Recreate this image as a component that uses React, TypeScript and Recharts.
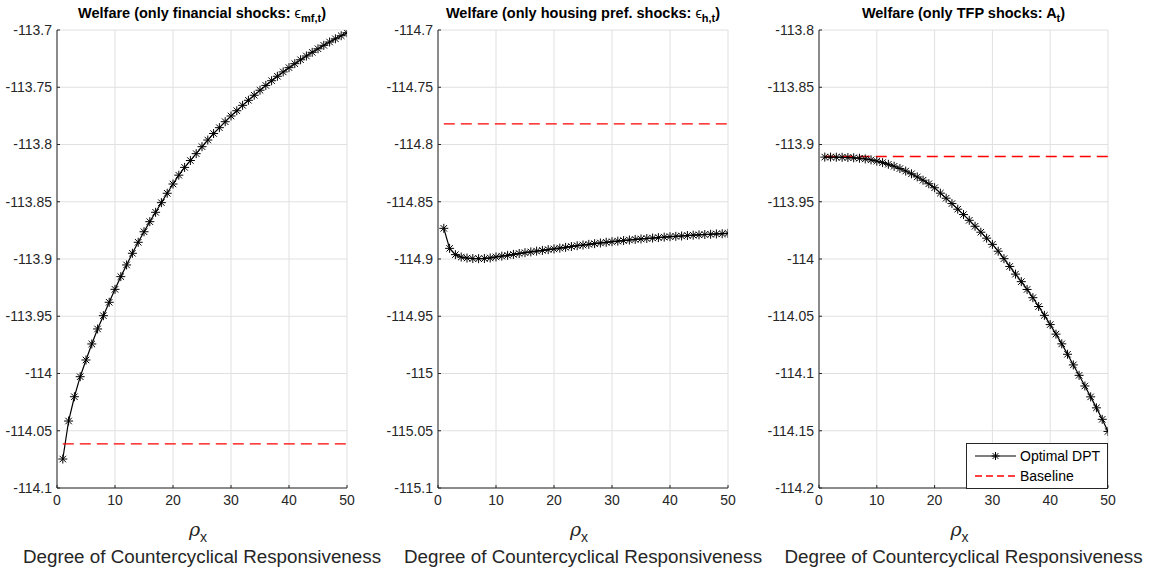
import React from 'react';
import { LineChart, Line, XAxis, YAxis, CartesianGrid, Legend } from 'recharts';

const RHO = [1, 2, 3, 4, 5, 6, 7, 8, 9, 10, 11, 12, 13, 14, 15, 16, 17, 18, 19, 20, 21, 22, 23, 24, 25, 26, 27, 28, 29, 30, 31, 32, 33, 34, 35, 36, 37, 38, 39, 40, 41, 42, 43, 44, 45, 46, 47, 48, 49, 50];

const WELFARE_FIN = [
  -114.0747, -114.0415, -114.0203, -114.0028, -113.9882, -113.9742, -113.9611, -113.9495, -113.9378, -113.9265,
  -113.9154, -113.9052, -113.8950, -113.8854, -113.8762, -113.8674, -113.8592, -113.8508, -113.8426, -113.8345,
  -113.8268, -113.8200, -113.8140, -113.8080, -113.8019, -113.7961, -113.7904, -113.7853, -113.7801, -113.7751,
  -113.7705, -113.7658, -113.7614, -113.7570, -113.7526, -113.7484, -113.7443, -113.7404, -113.7366, -113.7329,
  -113.7294, -113.7260, -113.7227, -113.7195, -113.7164, -113.7134, -113.7105, -113.7077, -113.7050, -113.7024,
];

const WELFARE_HOUSING = [
  -114.8732, -114.8907, -114.8962, -114.8983, -114.8992, -114.8996, -114.8997, -114.8996, -114.8991, -114.8982,
  -114.8975, -114.8968, -114.8960, -114.8952, -114.8945, -114.8938, -114.8931, -114.8925, -114.8918, -114.8912,
  -114.8905, -114.8898, -114.8891, -114.8884, -114.8878, -114.8872, -114.8866, -114.8860, -114.8854, -114.8849,
  -114.8844, -114.8839, -114.8834, -114.8829, -114.8825, -114.8821, -114.8817, -114.8813, -114.8809, -114.8805,
  -114.8802, -114.8799, -114.8795, -114.8792, -114.8789, -114.8786, -114.8784, -114.8781, -114.8779, -114.8776,
];

const WELFARE_TFP = [
  -113.9110, -113.9110, -113.9111, -113.9112, -113.9114, -113.9116, -113.9120, -113.9126, -113.9134, -113.9145,
  -113.9158, -113.9173, -113.9190, -113.9210, -113.9232, -113.9256, -113.9283, -113.9312, -113.9343, -113.9378,
  -113.9425, -113.9469, -113.9516, -113.9565, -113.9612, -113.9662, -113.9714, -113.9766, -113.9818, -113.9872,
  -113.9932, -113.9997, -114.0065, -114.0132, -114.0198, -114.0266, -114.0338, -114.0415, -114.0492, -114.0573,
  -114.0656, -114.0741, -114.0832, -114.0925, -114.1016, -114.1109, -114.1204, -114.1300, -114.1400, -114.1506,
];

const BASELINE_FIN = -114.0615;
const BASELINE_HOUSING = -114.782;
const BASELINE_TFP = -113.9105;

const X_TICKS = [0, 10, 20, 30, 40, 50];
const Y_TICKS_FIN = [-114.1, -114.05, -114, -113.95, -113.9, -113.85, -113.8, -113.75, -113.7];
const Y_TICKS_HOUSING = [-115.1, -115.05, -115, -114.95, -114.9, -114.85, -114.8, -114.75, -114.7];
const Y_TICKS_TFP = [-114.2, -114.15, -114.1, -114.05, -114, -113.95, -113.9, -113.85, -113.8];

const SERIES_NAMES = ['Optimal DPT', 'Baseline'];
const X_LABEL = 'Degree of Countercyclical Responsiveness';

const FONT = '"Liberation Sans", Arial, Helvetica, sans-serif';
const AXIS_COLOR = '#262626';
const GRID_COLOR = '#e0e0e0';
const HEIGHT = 573;
const TOP = 30;
const XAXIS_H = 85;
const PLOT_BOTTOM = HEIGHT - XAXIS_H;

const buildRows = (values: number[], baseline: number) =>
  RHO.map((r, i) => ({ rho: r, welfare: values[i], baseline }));

const fmt = (v: number) => String(Number(v.toFixed(2)));

function Asterisk(props: any) {
  const { cx, cy, size = 4.5 } = props;
  if (cx == null || cy == null) return null;
  const r = size;
  const d = r * 0.72;
  return (
    <g stroke="#000" strokeWidth={1}>
      <line x1={cx - r} y1={cy} x2={cx + r} y2={cy} />
      <line x1={cx} y1={cy - r} x2={cx} y2={cy + r} />
      <line x1={cx - d} y1={cy - d} x2={cx + d} y2={cy + d} />
      <line x1={cx - d} y1={cy + d} x2={cx + d} y2={cy - d} />
    </g>
  );
}

function LegendBox({ payload }: any) {
  const items = SERIES_NAMES.map((n) => (payload || []).find((p: any) => p.value === n)).filter(Boolean);
  return (
    <div
      style={{
        boxSizing: 'border-box',
        width: 142,
        height: 46,
        border: `1px solid ${AXIS_COLOR}`,
        background: '#fff',
        fontFamily: FONT,
        fontSize: 14,
        color: '#000',
        paddingTop: 2,
      }}
    >
      {items.map((p: any, i: number) => {
        const dashed = p.value === 'Baseline';
        return (
          <div key={i} style={{ display: 'flex', alignItems: 'center', height: 20 }}>
            <svg width={52} height={14} style={{ display: 'block' }}>
              <line
                x1={8}
                x2={49}
                y1={7}
                y2={7}
                stroke={p.color}
                strokeWidth={dashed ? 1.4 : 1.2}
                strokeDasharray={dashed ? '7 4' : undefined}
              />
              {!dashed && <Asterisk cx={28.5} cy={7} size={4} />}
            </svg>
            <span style={{ marginLeft: 1 }}>{p.value}</span>
          </div>
        );
      })}
    </div>
  );
}

function Panel({ left, width, yAxisWidth, marginRight, values, baseline, yTicks, legend }: any) {
  const data = buildRows(values, baseline);
  return (
    <div style={{ position: 'absolute', left, top: 0 }}>
      <LineChart width={width} height={HEIGHT} data={data} margin={{ top: TOP, right: marginRight, bottom: 0, left: 0 }}>
        <CartesianGrid stroke={GRID_COLOR} strokeWidth={1} />
        <XAxis
          dataKey="rho"
          type="number"
          domain={[0, 50]}
          ticks={X_TICKS}
          interval={0}
          height={XAXIS_H}
          tickSize={-3}
          tickMargin={10}
          stroke={AXIS_COLOR}
          tick={{ fill: AXIS_COLOR, fontSize: 14, fontFamily: FONT }}
          allowDataOverflow
        />
        <YAxis
          type="number"
          domain={[yTicks[0], yTicks[yTicks.length - 1]]}
          ticks={yTicks}
          interval={0}
          width={yAxisWidth}
          tickSize={-3}
          tickMargin={8}
          stroke={AXIS_COLOR}
          tick={{ fill: AXIS_COLOR, fontSize: 14, fontFamily: FONT }}
          tickFormatter={fmt}
          allowDataOverflow
        />
        <Line
          dataKey="welfare"
          name={SERIES_NAMES[0]}
          stroke="#000"
          strokeWidth={1.2}
          dot={(p: any) => <Asterisk key={`d-${p.index}`} cx={p.cx} cy={p.cy} size={4.5} />}
          isAnimationActive={false}
        />
        <Line
          dataKey="baseline"
          name={SERIES_NAMES[1]}
          stroke="#ff0000"
          strokeWidth={1.4}
          strokeDasharray="11 6"
          dot={false}
          isAnimationActive={false}
        />
        {legend && (
          <Legend
            layout="vertical"
            align="center"
            verticalAlign="middle"
            wrapperStyle={{ position: 'absolute', left: 966 - 760, top: 443, width: 142, height: 46 }}
            content={(props: any) => <LegendBox payload={props.payload} />}
          />
        )}
      </LineChart>
    </div>
  );
}

function PanelText({ cx, title }: any) {
  return (
    <g fontFamily={FONT}>
      <text x={cx} y={18} textAnchor="middle" fontSize={14.5} fontWeight="bold" fill="#000">
        {title}
      </text>
      <text x={cx - 4} y={PLOT_BOTTOM + 48} textAnchor="middle" fontSize={19} fill={AXIS_COLOR}>
        <tspan fontStyle="italic" fontFamily='"DejaVu Serif", "Liberation Serif", serif'>ρ</tspan>
        <tspan dy={6} fontSize={14}>x</tspan>
      </text>
      <text x={cx} y={PLOT_BOTTOM + 75} textAnchor="middle" fontSize={18.8} fill={AXIS_COLOR}>
        {X_LABEL}
      </text>
    </g>
  );
}

export default function App() {
  return (
    <div style={{ position: 'absolute', left: 0, top: 0, width: 1151, height: 573, background: '#fff', overflow: 'hidden' }}>
      <Panel left={0} width={380} yAxisWidth={57} marginRight={33} values={WELFARE_FIN} baseline={BASELINE_FIN} yTicks={Y_TICKS_FIN} />
      <Panel left={380} width={380} yAxisWidth={58} marginRight={32} values={WELFARE_HOUSING} baseline={BASELINE_HOUSING} yTicks={Y_TICKS_HOUSING} />
      <Panel left={760} width={391} yAxisWidth={59} marginRight={43} values={WELFARE_TFP} baseline={BASELINE_TFP} yTicks={Y_TICKS_TFP} legend />
      <svg width={1151} height={573} style={{ position: 'absolute', left: 0, top: 0, pointerEvents: 'none' }}>
        <PanelText
          cx={202}
          title={
            <>
              Welfare (only financial shocks:{' '}
              <tspan fontWeight="normal">ϵ</tspan>
              <tspan dy={4} fontSize={11}>mf,t</tspan>
              <tspan dy={-4}>)</tspan>
            </>
          }
        />
        <PanelText
          cx={583}
          title={
            <>
              Welfare (only housing pref. shocks:{' '}
              <tspan fontWeight="normal">ϵ</tspan>
              <tspan dy={4} fontSize={11}>h,t</tspan>
              <tspan dy={-4}>)</tspan>
            </>
          }
        />
        <PanelText
          cx={963.5}
          title={
            <>
              Welfare (only TFP shocks: A
              <tspan dy={4} fontSize={11}>t</tspan>
              <tspan dy={-4}>)</tspan>
            </>
          }
        />
      </svg>
    </div>
  );
}
